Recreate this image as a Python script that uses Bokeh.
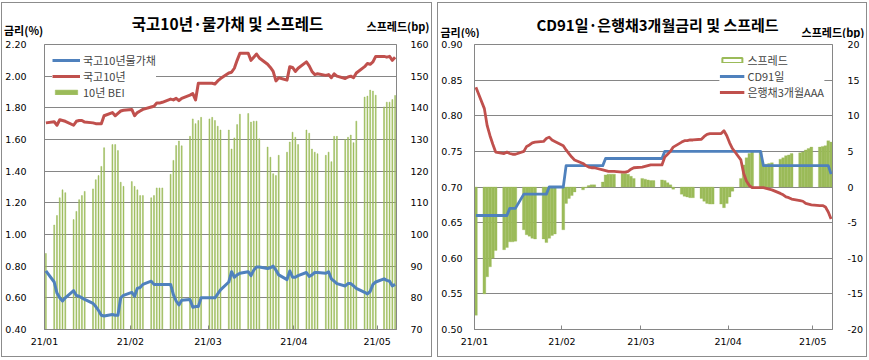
import pandas as pd
from bokeh.plotting import figure
from bokeh.models import (Range1d, LinearAxis, FixedTicker, DatetimeTickFormatter,
                          NumeralTickFormatter, Label, Legend, LegendItem, ColumnDataSource)
from bokeh.layouts import row, column
from bokeh.embed import file_html
from bokeh.resources import INLINE

# ---------------- data ----------------
dates = ["2021-01-01"] + [d.strftime("%Y-%m-%d") for d in pd.bdate_range("2021-01-04", "2021-05-07")]

ktb10_il = [0.77,
            0.70, 0.63, 0.60, 0.58, 0.60,
            0.645, 0.615, 0.61, 0.60, 0.59,
            0.565, 0.545, 0.52, 0.49, 0.485,
            0.495, 0.49, 0.49, 0.60, 0.615,
            0.635, 0.61, 0.66, 0.665, 0.685,
            0.705, 0.685, 0.685, 0.685, 0.685,
            0.685, 0.62, 0.58, 0.555, 0.585,
            0.59, 0.54, 0.545, 0.545, 0.60,
            0.60, 0.60, 0.60, 0.625, 0.65,
            0.70, 0.765, 0.73, 0.745, 0.755,
            0.765, 0.74, 0.775, 0.795, 0.795,
            0.785, 0.79, 0.80, 0.775, 0.745,
            0.715, 0.77, 0.73, 0.73, 0.74,
            0.76, 0.735, 0.745, 0.76, 0.76,
            0.755, 0.765, 0.72, 0.705, 0.69,
            0.675, 0.69, 0.69, 0.675, 0.66,
            0.635, 0.625, 0.64, 0.685, 0.70,
            0.72, 0.71, 0.705, 0.675, 0.685]

ktb10 = [1.705,
         1.712, 1.69, 1.725, 1.72, 1.715,
         1.69, 1.715, 1.72, 1.72, 1.71,
         1.705, 1.70, 1.70, 1.70, 1.75,
         1.77, 1.75, 1.765, 1.78, 1.785,
         1.79, 1.75, 1.77, 1.78, 1.79,
         1.805, 1.81, 1.83, 1.83, 1.835,
         1.855, 1.85, 1.86, 1.845, 1.86,
         1.88, 1.89, 1.85, 1.955, 1.955,
         1.955, 1.955, 1.95, 1.97, 1.985,
         2.02, 2.025, 2.05, 2.10, 2.145,
         2.145, 2.10, 2.12, 2.14, 2.115,
         2.075, 2.055, 2.03, 1.97, 1.99,
         1.975, 2.06, 2.055, 2.03, 2.05,
         2.09, 2.065, 2.03, 2.01, 2.015,
         2.005, 2.01, 1.99, 2.015, 2.0,
         1.985, 1.995, 2.0, 1.99, 2.02,
         2.06, 2.08, 2.075, 2.09, 2.125,
         2.125, 2.12, 2.125, 2.10, 2.12]

bei10 = [94,
         103, 106, 111.6, 114.1, 113.2,
         104.7, 107.3, 111, 112.3, 113.6,
         114.4, 117.3, 118.6, 121.5, 127.4,
         128.4, 128.4, 126.5, 116.5, 115.2,
         116.7, 115.2, 114.1, 112.3, 112.3,
         111.6, 112.3, 114.7, 114.7, 114.7,
         119, 123.4, 128.1, 129.5, 128,
         131, 136.5, 135, 136, 137,
         136.5, 137, 136, 134.2, 133,
         133, 127, 130.5, 134.7, 138,
         138.2, 135.5, 135.8, 135.8, 130.2,
         127.6, 124.4, 119.2, 118.6, 125,
         126, 129.2, 132.3, 130.7, 128.4,
         133, 132, 127, 126, 125.5,
         125, 126, 123, 131, 131,
         130, 130.7, 131.4, 129, 135.8,
         143.4, 143.7, 145.6, 145.3, 144,
         140.3, 141.8, 141.8, 142.6, 143.9]

cd91 = [0.66,
        0.66, 0.66, 0.66, 0.66, 0.66,
        0.66, 0.66, 0.67, 0.67, 0.67,
        0.69, 0.69, 0.69, 0.69, 0.69,
        0.69, 0.69, 0.70, 0.70, 0.70,
        0.70, 0.73, 0.73, 0.73, 0.73,
        0.73, 0.73, 0.73, 0.73, 0.73,
        0.73, 0.74, 0.74, 0.74, 0.74,
        0.74, 0.74, 0.74, 0.74, 0.74,
        0.74, 0.74, 0.74, 0.74, 0.74,
        0.74, 0.75, 0.75, 0.75, 0.75,
        0.75, 0.75, 0.75, 0.75, 0.75,
        0.75, 0.75, 0.75, 0.75, 0.75,
        0.75, 0.75, 0.75, 0.75, 0.75,
        0.75, 0.75, 0.75, 0.75, 0.75,
        0.75, 0.73, 0.73, 0.73, 0.73,
        0.73, 0.73, 0.73, 0.73, 0.73,
        0.73, 0.73, 0.73, 0.73, 0.73,
        0.73, 0.73, 0.73, 0.73, 0.718]

bank3m = [0.84,
          0.81, 0.786, 0.772, 0.76, 0.749,
          0.747, 0.749, 0.747, 0.746, 0.746,
          0.75, 0.757, 0.759, 0.762, 0.763,
          0.764, 0.768, 0.770, 0.766, 0.764,
          0.758, 0.752, 0.747, 0.742, 0.738,
          0.733, 0.730, 0.728, 0.727, 0.727,
          0.724, 0.723, 0.722, 0.722, 0.722,
          0.721, 0.721, 0.722, 0.725, 0.727,
          0.728, 0.729, 0.730, 0.731, 0.731,
          0.731, 0.742, 0.746, 0.750, 0.756,
          0.763, 0.765, 0.765, 0.766, 0.766,
          0.767, 0.771, 0.774, 0.775, 0.775,
          0.775, 0.779, 0.772, 0.762, 0.754,
          0.738, 0.719, 0.708, 0.702, 0.699,
          0.699, 0.699, 0.698, 0.697, 0.696,
          0.691, 0.689, 0.686, 0.685, 0.683,
          0.681, 0.680, 0.677, 0.676, 0.675,
          0.674, 0.674, 0.672, 0.665, 0.655]

spread = [-18,
          -15, -12.6, -11.2, -10, -8.9,
          -8.8, -8.5, -7.7, -7.7, -7.6,
          -6.0, -6.7, -6.9, -7.2, -7.3,
          -7.3, -7.8, -7.2, -6.8, -6.6,
          -6.0, -2.3, -1.6, -1.2, -0.7,
          -0.4, -0.1, 0.2, 0.3, 0.3,
          0.7, 1.7, 1.8, 1.8, 1.8,
          1.9, 1.9, 1.8, 1.5, 1.2,
          1.2, 1.1, 1.0, 0.9, 0.9,
          1.0, 0.9, 0.6, 0.3, -0.3,
          -1.0, -1.3, -1.4, -1.5, -1.5,
          -1.6, -2.0, -2.3, -2.4, -2.4,
          -2.4, -2.9, -2.3, -1.4, -0.6,
          1.2, 3.1, 4.1, 4.7, 4.9,
          5.0, 3.1, 3.2, 3.3, 3.4,
          3.9, 4.1, 4.4, 4.5, 4.7,
          4.8, 4.9, 5.2, 5.4, 5.6,
          5.6, 5.7, 5.8, 6.5, 6.3]

month_ticks = ["2021-01-01", "2021-02-01", "2021-03-01", "2021-04-01", "2021-05-01"]
left_ticks_a = [0.40, 0.60, 0.80, 1.00, 1.20, 1.40, 1.60, 1.80, 2.00, 2.20]
left_ticks_b = [70, 80, 90, 100, 110, 120, 130, 140, 150, 160]
right_ticks_a = [0.50, 0.55, 0.60, 0.65, 0.70, 0.75, 0.80, 0.85, 0.90]
right_ticks_b = [-20, -15, -10, -5, 0, 5, 10, 15, 20]

# ---------------- styling ----------------
BLUE = "#4F81BD"
RED = "#C0504D"
GREEN = "#9BBB59"
GRID = "#868686"
KFONT = "Noto Sans CJK KR"
NFONT = "DejaVu Sans"
DAY = 86400000.0
HEAD_H = 35
CHART_H = 318

X0 = pd.Timestamp("2021-01-01")
X1 = pd.Timestamp("2021-05-08")
xs = [(pd.Timestamp(d) + pd.Timedelta(hours=12)) for d in dates]
tick_ms = [pd.Timestamp(t).value / 1e6 for t in month_ticks]

src = ColumnDataSource(dict(x=xs, il=ktb10_il, ktb=ktb10, bei=bei10,
                            cd=cd91, bank=bank3m, spr=spread))


def style_fig(p, lt, rt, rname, lfmt, lstand, rstand):
    p.xaxis.ticker = FixedTicker(ticks=tick_ms)
    p.xaxis.formatter = DatetimeTickFormatter(
        milliseconds="%y/%m", seconds="%y/%m", minsec="%y/%m", minutes="%y/%m",
        hourmin="%y/%m", hours="%y/%m", days="%y/%m", months="%y/%m", years="%y/%m")
    p.xaxis.major_tick_in = 4
    p.xaxis.major_tick_out = 0
    p.xaxis.major_tick_line_color = GRID
    p.xaxis.minor_tick_line_color = None
    p.xaxis.axis_line_color = GRID
    p.xaxis.major_label_standoff = 6
    p.yaxis.ticker = FixedTicker(ticks=lt)
    p.yaxis.formatter = NumeralTickFormatter(format=lfmt)
    p.yaxis.major_tick_line_color = None
    p.yaxis.minor_tick_line_color = None
    p.yaxis.axis_line_color = GRID
    p.yaxis.major_label_standoff = lstand
    ax = LinearAxis(y_range_name=rname, ticker=FixedTicker(ticks=rt),
                    formatter=NumeralTickFormatter(format="0"),
                    major_tick_line_color=None, minor_tick_line_color=None,
                    axis_line_color=GRID, major_label_standoff=rstand)
    p.add_layout(ax, "right")
    for a in p.axis:
        a.major_label_text_font = NFONT
        a.major_label_text_font_size = "9.5px"
        a.major_label_text_color = "#000000"
    p.xgrid.grid_line_color = None
    p.ygrid.grid_line_color = GRID
    p.ygrid.grid_line_width = 1
    p.outline_line_color = GRID
    p.background_fill_color = "white"
    p.border_fill_color = "white"


def header(width):
    h = figure(width=width, height=HEAD_H, x_range=Range1d(0, width), y_range=Range1d(HEAD_H, 0),
               output_backend="svg", toolbar_location=None,
               x_axis_location=None, y_axis_location=None, frame_align=False,
               min_border_left=0, min_border_right=0, min_border_top=0, min_border_bottom=0)
    h.grid.visible = False
    h.outline_line_color = None
    h.background_fill_color = "white"
    h.border_fill_color = "white"
    return h


def label(h, x, y, text, size, align="center"):
    h.add_layout(Label(x=x, y=y, text=text, text_font=KFONT, text_font_size=size,
                       text_font_style="bold", text_align=align,
                       text_baseline="middle", text_color="#000000"))


PANEL_STYLE = {"border": "1px solid #8c8c8c", "background-color": "white"}

# ---------------- left chart ----------------
W1 = 429
h1 = header(W1)
label(h1, 225, 19, "국고10년·물가채 및 스프레드", "15.5px")
label(h1, 1.5, 26, "금리(%)", "11px", "left")
label(h1, 427, 22, "스프레드(bp)", "11px", "right")

p1 = figure(width=W1, height=CHART_H, x_axis_type="datetime", output_backend="svg",
            toolbar_location=None, x_range=Range1d(X0, X1), y_range=Range1d(0.40, 2.20),
            frame_align=False,
            min_border_left=37, min_border_right=34, min_border_top=6, min_border_bottom=27)
p1.extra_y_ranges = {"bp": Range1d(70, 160)}
style_fig(p1, left_ticks_a, left_ticks_b, "bp", "0.00", 12, 8)

r_bei = p1.vbar(x="x", top="bei", bottom=70, width=0.33 * DAY, source=src, y_range_name="bp",
                fill_color=GREEN, line_color=GREEN, line_width=0.5)
r_ktb = p1.line(x="x", y="ktb", source=src, line_color=RED, line_width=3, line_join="round")
r_il = p1.line(x="x", y="il", source=src, line_color=BLUE, line_width=3, line_join="round")

leg1 = Legend(items=[LegendItem(label="국고10년물가채", renderers=[r_il]),
                     LegendItem(label="국고10년", renderers=[r_ktb]),
                     LegendItem(label="10년 BEI", renderers=[r_bei])],
              location="top_left", label_text_font=KFONT, label_text_font_size="11px",
              glyph_width=28, glyph_height=6, label_height=12, spacing=-2, padding=1, margin=8,
              label_standoff=3, border_line_color=None, background_fill_alpha=1.0)
p1.add_layout(leg1)

# ---------------- right chart ----------------
W2 = 428
h2 = header(W2)
label(h2, 219, 21, "CD91일·은행채3개월금리 및 스프레드", "15px")
label(h2, 2, 28, "금리(%)", "11px", "left")
label(h2, 426, 28, "스프레드(bp)", "11px", "right")

p2 = figure(width=W2, height=CHART_H, x_axis_type="datetime", output_backend="svg",
            toolbar_location=None, x_range=Range1d(X0, X1), y_range=Range1d(0.50, 0.90),
            frame_align=False,
            min_border_left=36, min_border_right=31, min_border_top=6, min_border_bottom=27)
p2.extra_y_ranges = {"bp": Range1d(-20, 20)}
style_fig(p2, right_ticks_a, right_ticks_b, "bp", "0.00", 6, 9)

r_spr = p2.vbar(x="x", top="spr", bottom=0, width=DAY, source=src, y_range_name="bp",
                fill_color=GREEN, line_color=GREEN, line_width=0.3)
# same series, hidden: provides the hollow legend swatch only
r_spr_leg = p2.vbar(x="x", top="spr", bottom=0, width=DAY, source=src, y_range_name="bp",
                    fill_color="white", line_color=GREEN, line_width=2, visible=False)
r_cd = p2.line(x="x", y="cd", source=src, line_color=BLUE, line_width=2.8, line_join="round")
r_bank = p2.line(x="x", y="bank", source=src, line_color=RED, line_width=2.8, line_join="round")

leg2 = Legend(items=[LegendItem(label="스프레드", renderers=[r_spr_leg]),
                     LegendItem(label="CD91일", renderers=[r_cd]),
                     LegendItem(label="은행채3개월AAA", renderers=[r_bank])],
              location="top_right", label_text_font=KFONT, label_text_font_size="11px",
              glyph_width=25, glyph_height=6, label_height=12, spacing=-2, padding=1, margin=8,
              label_standoff=3, border_line_color=None, background_fill_alpha=1.0,
              inactive_fill_alpha=0.0)
p2.add_layout(leg2)

panel1 = column(h1, p1, spacing=0, styles=PANEL_STYLE)
panel2 = column(h2, p2, spacing=0, styles=PANEL_STYLE)
layout = row(panel1, panel2, spacing=5, margin=(2, 0, 0, 1))
open("out.html", "w").write(file_html(layout, INLINE))
